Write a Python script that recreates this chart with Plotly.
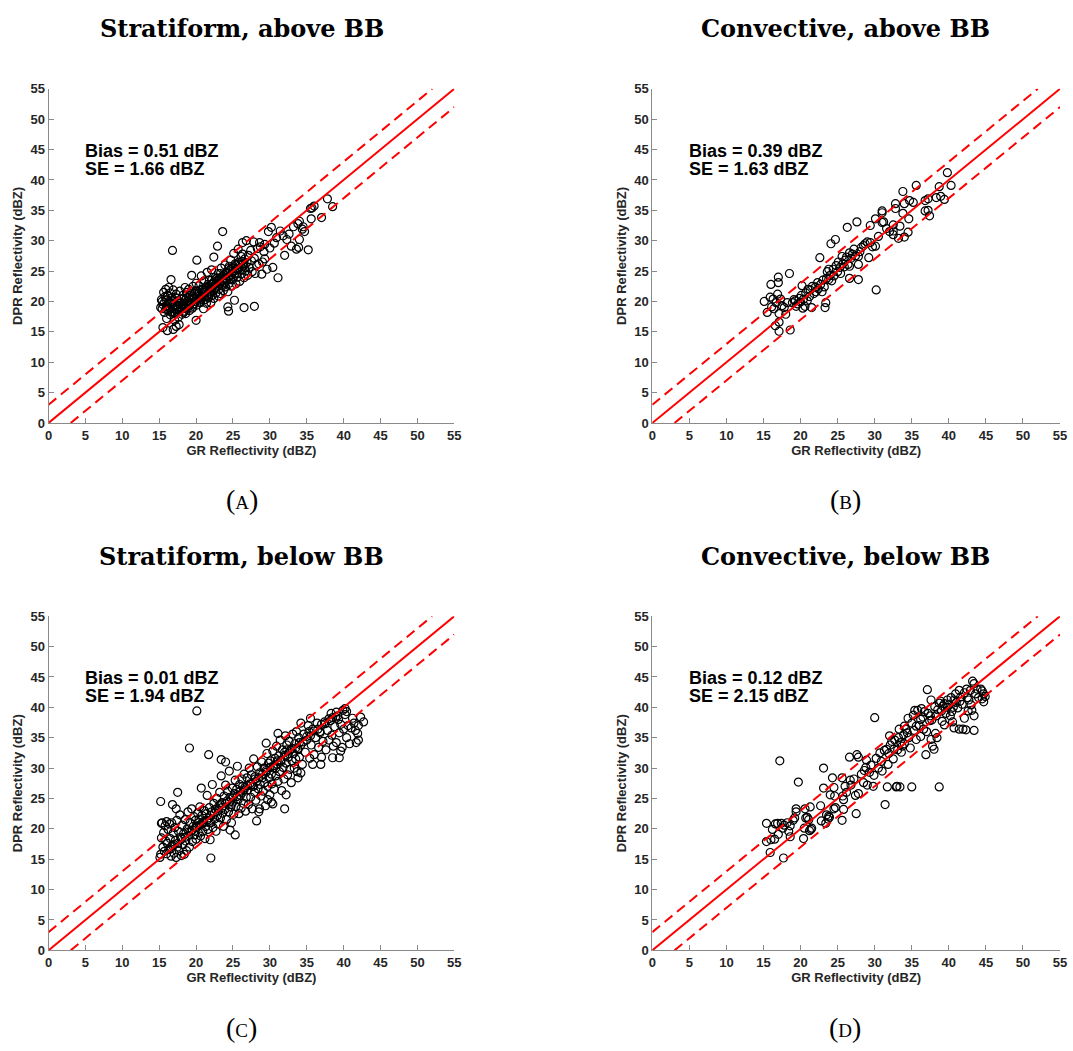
import plotly.graph_objects as go

# ---------------------------------------------------------------------------
# GR vs DPR reflectivity pairs (dBZ) for the four rain-type / layer classes
# ---------------------------------------------------------------------------
strat_above = [
    (15.2,19.0),(15.3,20.3),(15.4,18.8),(15.5,15.7),(15.5,19.5),(15.6,21.5),(15.7,18.2),(15.8,20.8),
    (15.9,22.0),(16.0,19.3),(16.0,17.2),(16.1,15.2),(16.1,21.0),(16.2,18.6),(16.3,20.0),(16.3,22.3),
    (16.4,19.6),(16.5,17.8),(16.5,21.4),(16.6,23.6),(16.6,18.3),(16.7,20.6),(16.8,28.4),(16.8,19.0),
    (16.9,15.4),(16.9,21.9),(17.0,18.1),(17.0,20.2),(17.1,16.9),(17.2,19.4),(17.3,15.9),(17.3,21.2),
    (17.4,18.6),(17.5,20.1),(17.6,17.4),(17.7,16.2),(17.7,19.7),(17.8,21.7),(17.9,18.9),(18.0,20.4),
    (18.0,19.1),(18.1,17.9),(18.2,21.0),(18.3,19.6),(18.4,18.4),(18.5,20.2),(18.5,22.3),(18.6,19.0),
    (18.7,21.5),(18.8,18.7),(18.9,20.0),(19.0,19.3),(19.0,22.0),(19.1,18.5),(19.2,21.0),(19.3,19.8),
    (19.4,24.3),(19.5,20.5),(19.5,18.9),(19.6,22.5),(19.7,19.6),(19.8,21.3),(19.9,20.0),(20.0,16.9),
    (20.0,23.0),(20.1,26.8),(20.1,19.4),(20.2,21.7),(20.3,20.4),(20.4,22.6),(20.5,19.9),(20.6,21.1),
    (20.7,24.2),(20.8,20.7),(20.9,22.0),(21.0,18.8),(21.0,21.5),(21.1,23.4),(21.2,20.3),(21.3,22.3),
    (21.4,19.7),(21.5,21.0),(21.5,24.8),(21.6,22.8),(21.7,20.6),(21.8,23.5),(21.9,21.6),(22.0,19.8),
    (22.0,22.3),(22.1,25.2),(22.2,21.0),(22.3,23.0),(22.4,27.3),(22.4,20.5),(22.5,22.0),(22.6,24.0),
    (22.7,21.4),(22.8,23.3),(22.9,29.1),(22.9,22.5),(23.0,20.9),(23.0,24.6),(23.1,22.0),(23.2,23.8),
    (23.3,21.3),(23.4,25.5),(23.5,22.7),(23.6,31.5),(23.6,24.2),(23.7,21.8),(23.8,23.2),(23.9,26.0),
    (24.0,22.4),(24.1,24.8),(24.2,23.5),(24.3,19.1),(24.3,21.6),(24.4,18.4),(24.4,25.4),(24.5,23.0),
    (24.6,24.2),(24.7,26.8),(24.8,22.5),(24.9,25.0),(25.0,23.7),(25.1,27.9),(25.2,20.2),(25.2,24.5),
    (25.3,26.2),(25.4,22.9),(25.5,25.4),(25.6,24.0),(25.7,28.6),(25.8,26.5),(25.9,23.3),(26.0,25.2),
    (26.1,27.4),(26.2,24.6),(26.3,29.7),(26.4,25.8),(26.5,19.0),(26.5,23.9),(26.6,27.0),(26.7,25.0),
    (26.8,30.0),(26.9,26.4),(27.0,24.3),(27.1,27.6),(27.2,25.6),(27.4,28.4),(27.5,26.7),(27.6,24.9),
    (27.8,29.8),(27.9,19.2),(27.9,27.1),(28.0,24.6),(28.2,26.0),(28.3,28.7),(28.5,26.2),(28.6,29.7),
    (28.7,29.0),(28.9,24.5),(29.0,26.5),(29.2,28.2),(29.3,29.4),(29.3,27.0),(29.6,25.3),(29.8,31.5),
    (30.0,28.8),(30.2,32.2),(30.4,25.6),(30.6,29.6),(30.9,30.5),(31.1,23.9),(31.4,31.6),(31.8,30.8),
    (32.0,27.6),(32.3,30.2),(32.6,31.1),(32.9,29.1),(33.2,32.3),(33.6,28.6),(33.8,32.8),(33.9,28.9),
    (34.0,30.2),(34.0,33.2),(34.4,31.9),(34.5,32.3),(34.7,31.5),(35.2,28.5),(35.5,35.3),(35.6,33.6),
    (35.7,35.4),(36.0,35.7),(37.0,33.8),(37.8,36.9),(38.5,35.6),
    (17.2,18.0),(17.5,18.3),(17.8,18.5),(18.1,18.8),(18.3,18.2),(18.6,18.0),(18.9,19.6),(19.1,19.9),
    (19.3,20.3),(19.6,19.2),(19.8,20.6),(20.1,20.9),(20.3,21.3),(20.5,20.6),(20.8,21.9),(21.0,22.1),
    (21.2,21.5),(21.4,22.4),(21.6,21.2),(21.8,22.0),(22.0,22.8),(22.2,22.4),(22.4,23.2),(22.6,22.2),
    (22.8,23.8),(23.0,23.4),(23.2,22.9),(23.4,24.0),(23.6,23.4),(23.8,24.4),(24.0,23.8),(24.2,24.6),
    (24.4,24.0),(24.6,25.2),(24.8,24.4),(25.0,25.5),(25.2,25.0),(25.4,26.0),(25.6,25.3),(25.8,26.2),
    (26.0,26.0),(26.2,26.6),(26.4,26.2),(26.6,25.6),(20.6,19.8),(21.1,20.7),(21.9,21.3),(22.7,22.9),
    (23.3,24.6),(24.7,23.6),(19.4,21.6),(18.7,20.6),(18.2,19.5),(17.6,19.0),(17.1,18.7),(16.7,18.3),
    (16.4,18.9),(16.0,20.2),(15.7,19.8),(15.4,20.0),(15.9,18.7),(16.2,20.9),(16.6,19.7),(17.4,20.5),
    (18.4,19.3),(19.0,20.7),(19.9,21.7),(20.4,20.2),(21.3,21.8),(22.1,23.5),(23.1,23.0),(23.9,23.0),
    (24.5,25.8),(25.5,24.6),(26.3,27.8),
]

conv_above = [
    (15.1,20.0),(15.5,18.2),(15.9,20.7),(16.0,22.8),(16.1,19.1),(16.3,20.4),(16.4,18.8),(16.6,16.0),
    (16.7,19.8),(16.9,21.2),(17.0,24.0),(17.0,23.1),(17.1,18.0),(17.1,16.6),(17.1,15.1),(17.3,20.4),
    (17.5,19.3),(17.8,19.0),(18.0,17.9),(18.2,19.8),(18.5,24.6),(18.6,15.3),(18.9,19.8),(19.1,20.3),
    (19.3,20.1),(19.4,19.2),(19.6,19.6),(19.8,20.5),(20.0,19.9),(20.1,21.0),(20.2,22.6),(20.3,18.9),
    (20.4,20.4),(20.6,19.2),(20.7,21.4),(20.9,20.1),(21.0,22.0),(21.2,20.8),(21.3,21.9),(21.5,19.0),
    (21.6,22.5),(21.8,21.3),(22.0,22.4),(22.1,21.6),(22.3,23.1),(22.4,22.1),(22.6,27.2),(22.7,22.8),
    (22.9,21.6),(23.0,23.5),(23.2,22.4),(23.3,19.0),(23.4,19.8),(23.5,23.8),(23.6,24.9),(23.8,23.6),
    (23.8,25.3),(24.0,24.3),(24.1,29.5),(24.2,23.4),(24.4,25.3),(24.5,24.2),(24.7,30.2),(24.8,25.9),
    (25.0,24.9),(25.1,26.5),(25.3,25.6),(25.4,24.6),(25.6,27.4),(25.7,26.2),(25.9,25.7),(26.0,26.8),
    (26.2,27.3),(26.3,32.2),(26.4,26.1),(26.6,23.8),(26.6,25.8),(26.6,28.0),(26.8,27.1),(27.0,27.8),
    (27.2,28.6),(27.4,27.5),(27.6,33.1),(27.8,27.4),(27.8,23.6),(27.8,26.1),(28.0,28.2),(28.2,28.9),
    (28.5,29.2),(28.7,29.5),(29.0,29.8),(29.2,27.2),(29.4,32.5),(29.4,29.7),(29.7,29.0),(30.1,33.6),
    (30.1,29.1),(30.2,21.9),(30.5,30.7),(31.0,34.9),(31.0,34.6),(31.0,33.0),(31.2,33.1),(31.6,32.0),
    (32.0,31.5),(32.5,32.6),(32.5,31.6),(32.5,31.0),(32.8,36.1),(32.8,35.3),(33.2,30.4),(33.4,32.4),
    (33.8,38.1),(33.8,34.5),(34.0,36.1),(34.0,30.6),(34.5,31.4),(34.6,33.6),(34.7,36.6),(35.2,36.3),
    (35.6,39.1),(36.8,36.6),(36.8,34.9),(37.2,36.9),(37.2,35.0),(37.4,34.1),(38.3,37.1),(38.7,38.9),
    (38.9,37.3),(39.4,36.8),(39.8,41.2),(40.3,39.1),
]

strat_below = [
    (20.1,39.4),(19.1,33.3),(21.7,32.2),(23.4,31.4),(24.0,31.0),(15.2,24.5),(17.5,26.0),(16.8,24.0),
    (17.3,23.3),(20.7,26.7),(22.0,15.2),(25.3,19.0),(24.6,19.8),(42.7,37.6),(42.3,38.4),(40.2,39.8),
    (39.9,39.5),(40.4,39.3),(38.5,31.7),(39.4,31.7),(39.6,32.8),(36.9,30.6),(35.8,30.6),(32.0,23.3),
    (32.2,25.6),(30.2,24.4),(30.4,24.1),(29.7,24.8),(28.2,21.3),(28.6,23.3),(41.9,35.7),(42.0,34.6),
    (41.6,36.2),(34.2,29.2),(33.8,28.4),(31.1,35.7),(29.5,34.1),(34.2,37.4),(35.5,38.2),(38.9,38.4),
    (15.1,15.3),(15.2,15.8),(15.3,18.5),(15.3,20.9),(15.4,21.0),(15.5,17.0),(15.6,19.4),(15.7,16.3),
    (15.8,20.5),(15.9,18.0),(16.0,21.2),(16.0,15.9),(16.1,17.6),(16.2,19.9),(16.3,16.6),(16.4,20.8),
    (16.5,18.4),(16.6,15.5),(16.7,21.0),(16.8,17.2),(16.9,19.3),(17.0,16.0),(17.1,20.2),(17.2,18.1),
    (17.3,15.3),(17.4,21.4),(17.5,17.0),(17.6,19.6),(17.7,16.4),(17.8,22.3),(17.9,18.6),(18.0,15.6),
    (18.1,20.6),(18.2,17.4),(18.3,19.2),(18.4,15.8),(18.5,21.5),(18.6,18.0),(18.7,16.4),(18.8,20.0),
    (18.9,22.8),(19.0,18.9),(19.1,17.0),(19.2,21.0),(19.3,19.6),(19.4,23.3),(19.5,17.9),(19.6,20.4),
    (19.7,22.0),(19.8,19.0),(19.9,21.4),(20.0,18.3),(20.1,20.2),(20.2,22.6),(20.3,19.4),(20.4,21.6),
    (20.5,23.6),(20.6,18.8),(20.7,20.8),(20.8,22.2),(20.9,19.6),(21.0,21.2),(21.1,23.0),(21.2,18.4),
    (21.3,20.4),(21.4,22.5),(21.5,25.5),(21.6,19.9),(21.7,21.8),(21.8,23.5),(21.9,18.2),(22.0,21.0),
    (22.1,22.8),(22.2,27.3),(22.3,20.2),(22.4,24.2),(22.5,21.6),(22.6,23.2),(22.7,19.6),(22.8,25.0),
    (22.9,22.2),(23.0,20.8),(23.1,23.8),(23.2,26.0),(23.3,21.8),(23.4,28.7),(23.5,24.3),(23.6,22.6),
    (23.7,20.4),(23.8,25.4),(23.9,23.2),(24.0,27.2),(24.1,21.5),(24.2,24.6),(24.3,26.2),(24.4,22.8),
    (24.5,29.5),(24.6,25.2),(24.7,23.6),(24.8,21.0),(24.9,26.7),(25.0,24.4),(25.1,22.4),(25.2,25.8),
    (25.3,28.0),(25.4,23.7),(25.5,26.5),(25.6,30.3),(25.7,24.8),(25.8,22.5),(25.9,27.3),(26.0,25.5),
    (26.1,23.4),(26.2,28.2),(26.3,26.0),(26.4,24.2),(26.5,29.0),(26.6,26.8),(26.7,22.9),(26.8,25.2),
    (26.9,28.4),(27.0,26.4),(27.1,24.0),(27.2,30.0),(27.3,27.4),(27.4,25.2),(27.5,28.9),(27.6,23.3),
    (27.7,27.0),(27.8,31.5),(27.9,26.0),(28.0,28.6),(28.1,24.7),(28.2,27.8),(28.3,30.2),(28.4,26.6),
    (28.5,22.8),(28.6,29.2),(28.7,27.3),(28.8,25.4),(28.9,31.0),(29.0,28.4),(29.1,26.2),(29.2,30.0),
    (29.3,27.6),(29.4,23.8),(29.5,29.6),(29.6,32.4),(29.7,27.0),(29.8,30.8),(29.9,28.4),(30.0,25.6),
    (30.1,31.2),(30.2,29.0),(30.3,27.4),(30.4,32.8),(30.5,30.0),(30.6,26.5),(30.7,31.6),(30.8,28.7),
    (30.9,33.6),(31.0,30.6),(31.1,27.8),(31.2,32.0),(31.3,29.4),(31.4,34.6),(31.5,31.0),(31.6,26.3),
    (31.7,33.0),(31.8,30.1),(31.9,28.2),(32.0,32.6),(32.1,35.3),(32.2,30.8),(32.3,33.8),(32.4,28.9),
    (32.5,31.8),(32.6,34.4),(32.7,29.8),(32.8,33.0),(32.9,27.6),(33.0,31.2),(33.1,35.6),(33.2,32.4),
    (33.3,30.0),(33.4,34.0),(33.5,31.5),(33.6,36.0),(33.7,29.4),(33.8,33.2),(33.9,35.0),(34.0,31.8),
    (34.2,33.8),(34.4,30.6),(34.6,35.6),(34.8,32.6),(35.0,34.6),(35.2,37.0),(35.4,31.6),(35.6,33.8),
    (35.8,36.4),(36.0,32.2),(36.2,35.0),(36.4,37.4),(36.6,33.4),(36.8,35.8),(37.0,31.8),(37.2,34.4),
    (37.4,37.6),(37.6,33.0),(37.8,36.2),(38.0,34.6),(38.2,37.8),(38.4,35.4),(38.6,33.6),(38.8,36.8),
    (39.0,34.2),(39.2,38.6),(39.4,35.8),(39.6,37.2),(39.8,33.4),(40.0,36.4),(40.2,38.8),(40.4,35.0),
    (40.6,37.0),(40.8,34.0),(41.0,36.6),(41.2,38.2),(41.4,37.4),(41.7,34.2),(42.0,37.0),
    (19.0,19.5),(19.5,19.8),(20.0,20.4),(20.5,20.6),(21.0,21.0),(21.5,21.4),(22.0,22.2),(22.5,22.6),
    (23.0,23.0),(23.5,23.5),(24.0,24.2),(24.5,24.4),(25.0,25.1),(25.5,25.3),(26.0,26.2),(26.5,26.4),
    (27.0,27.1),(27.5,27.3),(28.0,28.2),(28.5,28.4),(29.0,29.0),(29.5,29.3),(30.0,30.1),(30.5,30.4),
    (31.0,31.2),(31.5,31.3),(32.0,32.1),(32.5,32.4),(33.0,33.2),(33.5,33.3),(34.0,34.2),(34.5,34.3),
    (35.0,35.2),(35.5,35.3),(36.0,36.1),(36.5,36.4),(37.0,37.2),(37.5,37.3),(38.0,38.1),(38.5,38.3),
    (39.0,39.2),(16.5,16.7),(17.0,17.4),(17.5,17.6),(18.0,18.3),(18.5,18.6),(20.3,21.0),(21.8,21.0),
    (23.3,24.0),(24.8,24.0),(26.3,27.0),(27.8,27.0),(29.3,30.0),(30.8,30.0),(32.3,33.0),(33.8,33.0),
    (35.3,36.0),(36.8,36.0),(38.3,39.0),(39.3,38.0),
]

conv_below = [
    (15.4,20.9),(15.4,17.9),(15.9,16.1),(16.0,18.2),(16.2,19.9),(16.5,18.3),(16.6,20.8),(16.9,20.9),
    (17.0,19.1),(17.2,31.2),(17.4,20.9),(17.6,20.1),(17.7,15.2),(17.8,20.6),(18.2,21.0),(18.4,19.6),
    (18.6,20.5),(18.6,18.7),(19.0,21.4),(19.2,21.8),(19.4,23.3),(19.4,22.8),(19.7,27.7),(20.4,18.4),
    (20.5,20.1),(20.6,23.3),(20.7,21.8),(20.9,21.9),(21.1,21.5),(21.2,19.7),(21.3,23.6),(21.4,19.9),
    (21.5,20.1),(22.7,23.8),(22.8,21.3),(23.1,30.0),(23.1,26.7),(23.4,20.9),(23.5,22.3),(23.7,21.6),
    (23.8,22.1),(23.9,21.9),(24.0,25.6),(24.3,28.4),(24.5,26.8),(24.5,23.3),(24.6,25.4),(24.7,23.5),
    (25.6,28.4),(25.6,21.4),(25.7,25.4),(25.8,24.8),(25.8,23.2),(26.0,27.0),(26.2,26.0),(26.6,31.8),
    (26.7,28.0),(26.8,27.2),(27.4,25.5),(27.5,22.5),(27.6,32.2),(27.8,31.8),(27.8,25.8),(28.2,29.0),
    (28.5,27.6),(28.8,30.1),(28.9,31.3),(29.0,27.2),(29.3,29.3),(29.5,30.5),(29.8,27.0),(30.0,38.3),
    (30.2,31.6),(30.5,30.0),(30.7,32.5),(31.0,29.5),(31.3,32.9),(31.4,24.0),(31.6,33.1),(31.7,26.9),
    (31.9,32.4),(32.1,33.8),(32.3,34.4),(32.5,31.5),(32.7,34.6),(32.9,26.9),(33.0,27.0),(33.1,33.0),
    (33.2,35.0),(33.4,26.9),(33.5,34.2),(33.7,33.6),(33.9,35.5),(34.0,34.0),(34.2,36.4),(34.5,38.2),
    (34.6,35.0),(34.8,33.3),(35.0,26.9),(35.2,38.7),(35.3,36.2),(35.4,39.5),(35.6,34.7),(35.8,39.5),
    (36.0,37.0),(36.2,35.2),(36.3,39.8),(36.5,38.4),(36.7,39.3),(36.9,32.2),(37.0,36.0),(37.1,42.9),
    (37.2,39.0),(37.4,37.8),(37.6,41.2),(37.8,33.6),(38.0,33.1),(38.1,40.1),(38.3,38.6),(38.5,39.6),
    (38.7,26.9),(38.7,40.7),(38.9,41.0),(39.0,39.4),(39.2,40.2),(39.4,37.1),(39.4,40.6),(39.6,39.0),
    (39.8,41.2),(40.0,40.4),(40.2,38.6),(40.3,41.6),(40.5,37.6),(40.7,41.2),(40.7,36.6),(40.9,42.2),
    (41.0,40.8),(41.2,39.9),(41.4,42.8),(41.4,36.4),(41.6,41.7),(41.8,40.5),(41.9,36.4),(42.1,42.4),
    (42.1,38.2),(42.3,36.3),(42.4,43.0),(42.5,41.6),(42.6,39.4),(42.9,42.8),(43.0,40.4),(43.1,39.5),
    (43.2,44.3),(43.4,38.6),(43.4,36.2),(43.4,43.9),(43.6,42.2),(43.8,43.0),(44.0,41.6),(44.3,43.0),
    (44.5,42.7),(44.5,41.4),(44.7,40.9),(44.7,42.2),(44.9,41.8),(38.4,35.0),(37.7,37.9),(36.6,36.4),
    (35.6,36.9),(34.4,35.8),(33.6,32.6),(32.6,33.1),(31.8,30.6),(30.9,31.1),(29.9,28.8),(28.6,29.6),
    (27.2,28.2),(39.8,40.0),(40.6,40.0),(41.5,41.0),(42.7,41.2),(36.2,38.0),(37.5,38.6),(35.0,37.4),
    (34.0,36.9),(33.3,36.4),(32.0,35.3),(39.1,37.7),(38.2,35.7),(37.6,34.7),(40.4,39.3),
]

panel_titles = ["Stratiform, above BB", "Convective, above BB",
                "Stratiform, below BB", "Convective, below BB"]
panel_letters = ["A", "B", "C", "D"]
bias_values = [0.51, 0.39, 0.01, 0.12]
se_values = [1.66, 1.63, 1.94, 2.15]
panel_data = [strat_above, conv_above, strat_below, conv_below]

axis_max = 55
tick_values = list(range(0, 56, 5))
band = 3.0  # half-width of the dashed agreement band (dB)

# ---------------------------------------------------------------------------
# Layout geometry (paper coordinates of each panel)
# ---------------------------------------------------------------------------
W, H = 1073, 1051
x_domains = [(45, 455), (655, 1067), (45, 455), (655, 1067)]
y_domains = [(83, 422), (83, 422), (618, 957), (618, 957)]
title_pos = [(240, 22), (850, 22), (240, 557), (850, 557)]
letter_pos = [(240, 500), (850, 500), (240, 1035), (850, 1035)]

axis_grey = "#8a8a8a"
label_dark = "#262626"
sans = "Liberation Sans, Arial, sans-serif"
serif = "DejaVu Serif, serif"

fig = go.Figure()
layout = dict(
    width=W, height=H,
    margin=dict(l=0, r=0, t=0, b=0),
    paper_bgcolor="white", plot_bgcolor="white",
    showlegend=False,
    annotations=[],
)

for i, pts in enumerate(panel_data):
    sfx = "" if i == 0 else str(i + 1)
    xa, ya = "x" + sfx, "y" + sfx
    gx = [p[0] for p in pts]
    dy = [p[1] for p in pts]

    fig.add_trace(go.Scatter(
        x=gx, y=dy, mode="markers", xaxis=xa, yaxis=ya,
        marker=dict(symbol="circle-open", size=8, color="black",
                    line=dict(width=1.2, color="black")),
        hoverinfo="skip"))
    # 1:1 line and +/- band
    fig.add_trace(go.Scatter(x=[0, axis_max], y=[0, axis_max], mode="lines",
                             xaxis=xa, yaxis=ya,
                             line=dict(color="#ff0000", width=2)))
    fig.add_trace(go.Scatter(x=[0, axis_max - band], y=[band, axis_max], mode="lines",
                             xaxis=xa, yaxis=ya,
                             line=dict(color="#ff0000", width=2, dash="10px,6px")))
    fig.add_trace(go.Scatter(x=[band, axis_max], y=[0, axis_max - band], mode="lines",
                             xaxis=xa, yaxis=ya,
                             line=dict(color="#ff0000", width=2, dash="10px,6px")))

    x0, x1 = x_domains[i]
    y0, y1 = y_domains[i]
    common = dict(
        range=[0, axis_max], tickmode="array", tickvals=tick_values,
        ticks="inside", ticklen=5, tickwidth=1, tickcolor=axis_grey,
        showline=True, linecolor=axis_grey, linewidth=1, mirror=False,
        showgrid=False, zeroline=False,
        tickfont=dict(family=sans, size=13, color=label_dark, weight="bold"),
        fixedrange=True,
    )
    layout["xaxis" + sfx] = dict(
        common, domain=[x0 / W, x1 / W], anchor=ya,
        title=dict(text="GR Reflectivity (dBZ)", standoff=3,
                   font=dict(family=sans, size=13, color=label_dark, weight="bold")))
    layout["yaxis" + sfx] = dict(
        common, domain=[1 - y1 / H, 1 - y0 / H], anchor=xa,
        title=dict(text="DPR Reflectivity (dBZ)", standoff=4,
                   font=dict(family=sans, size=13, color=label_dark, weight="bold")))

    layout["annotations"] += [
        dict(x=5, y=44.75, xref=xa, yref=ya, xanchor="left", yanchor="middle",
             text=f"Bias = {bias_values[i]:.2f} dBZ", showarrow=False, xshift=-2,
             font=dict(family=sans, size=18, color="black", weight="bold")),
        dict(x=5, y=41.8, xref=xa, yref=ya, xanchor="left", yanchor="middle",
             text=f"SE = {se_values[i]:.2f} dBZ", showarrow=False, xshift=-2,
             font=dict(family=sans, size=18, color="black", weight="bold")),
        dict(x=title_pos[i][0] / W, y=1 - title_pos[i][1] / H, xref="paper", yref="paper",
             xanchor="center", yanchor="middle", text=panel_titles[i], showarrow=False,
             font=dict(family=serif, size=24, color="black", weight="bold")),
        dict(x=letter_pos[i][0] / W, y=1 - letter_pos[i][1] / H, xref="paper", yref="paper",
             xanchor="center", yanchor="middle", showarrow=False,
             text=f"(<span style='font-size:19px'>{panel_letters[i]}</span>)",
             font=dict(family="Liberation Serif, serif", size=28, color="black")),
    ]

fig.update_layout(**layout)
fig.write_html("out.html")
